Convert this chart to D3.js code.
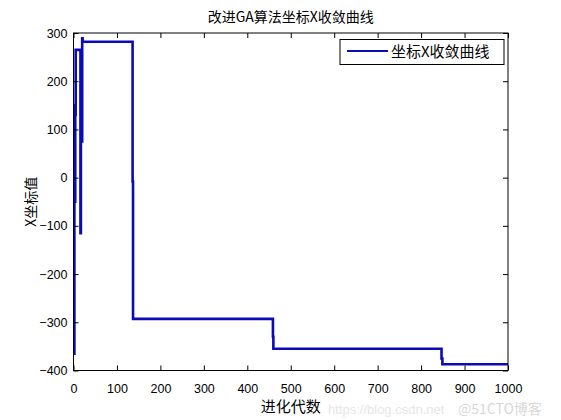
<!DOCTYPE html>
<html><head><meta charset="utf-8">
<script src="https://cdn.jsdelivr.net/npm/d3@7"></script>
<style>
body{margin:0;background:#fff;}
text{font-family:"Liberation Sans","Noto Sans CJK SC",sans-serif;}
.cjk{font-family:"Noto Sans CJK SC","Liberation Sans",sans-serif;}
</style></head>
<body><svg id="c" width="561" height="420"></svg>
<script>
const titleText = "改进GA算法坐标X收敛曲线";
const xLabel = "进化代数";
const yLabel = "X坐标值";
const legendLabel = "坐标X收敛曲线";
const generations = [1, 2, 3, 4, 5, 16, 17, 18, 19, 20, 21, 136, 137, 459, 460, 847, 849, 1000];
const xValues     = [-365, 150, -50, 130, 265, -115, 80, 265, 75, 289, 282, -8, -293, -330, -355, -375, -387, -387];
const xTicks = [0,100,200,300,400,500,600,700,800,900,1000];
const yTicks = [-400,-300,-200,-100,0,100,200,300];

const svg = d3.select("#c");
const L=73.5, R=508, T=33, B=370.5;
const x = d3.scaleLinear().domain([0,1000]).range([L,R]);
const y = d3.scaleLinear().domain([-400,300]).range([B,T]);
const fmt = d3.format("d");

svg.append("rect").attr("width",561).attr("height",420).attr("fill","#fff");

// watermark (behind)
svg.append("text").attr("x",328).attr("y",414).attr("fill","#e6e6e6").style("font-size","13px").text("https://blog.csdn.net");
svg.append("text").attr("class","cjk").attr("x",458).attr("y",414).attr("fill","#d8d8d8").style("font-size","14px").text("@51CTO博客");

// data line
const data = generations.map((g,i)=>({g, v:xValues[i]}));
const line = d3.line().x(d=>x(d.g)).y(d=>y(d.v)).curve(d3.curveStepAfter);
svg.append("path").datum(data).attr("d",line).attr("fill","none")
  .attr("stroke","#0a0ab8").attr("stroke-width",2.6).attr("stroke-linejoin","miter");

// axes with inward ticks
const tl = 5;
const gB = svg.append("g").attr("transform",`translate(0,${B})`)
  .call(d3.axisBottom(x).tickValues(xTicks).tickFormat(fmt).tickSizeInner(-tl).tickSizeOuter(0));
const gT = svg.append("g").attr("transform",`translate(0,${T})`)
  .call(d3.axisTop(x).tickValues(xTicks).tickSizeInner(-tl).tickSizeOuter(0).tickFormat(""));
const gL = svg.append("g").attr("transform",`translate(${L},0)`)
  .call(d3.axisLeft(y).tickValues(yTicks).tickFormat(fmt).tickSizeInner(-tl).tickSizeOuter(0).tickPadding(6));
const gR = svg.append("g").attr("transform",`translate(${R},0)`)
  .call(d3.axisRight(y).tickValues(yTicks).tickSizeInner(-tl).tickSizeOuter(0).tickFormat(""));
[gB,gT,gL,gR].forEach(g=>{
  g.select(".domain").remove();
  g.selectAll("line").attr("stroke","#000").attr("stroke-width",1);
  g.selectAll("text").attr("fill","#000").style("font-size","12.5px");
});
gB.selectAll("text").attr("dy","0.35em").attr("y",18);
svg.append("rect").attr("x",L).attr("y",T).attr("width",R-L).attr("height",B-T)
  .attr("fill","none").attr("stroke","#000").attr("stroke-width",1);

// title & labels
svg.append("text").attr("class","cjk").attr("x",(L+R)/2).attr("y",22).attr("text-anchor","middle")
  .style("font-size","14px").text(titleText);
svg.append("text").attr("class","cjk").attr("x",(L+R)/2).attr("y",412).attr("text-anchor","middle")
  .style("font-size","15px").text(xLabel);
svg.append("text").attr("class","cjk").attr("transform",`translate(36,${(T+B)/2}) rotate(-90)`)
  .attr("text-anchor","middle").style("font-size","14px").text(yLabel);

// legend
const lg = svg.append("g");
lg.append("rect").attr("x",340).attr("y",39.5).attr("width",164).attr("height",25)
  .attr("fill","#fff").attr("stroke","#000").attr("stroke-width",1);
lg.append("line").attr("x1",347).attr("x2",388).attr("y1",51).attr("y2",51)
  .attr("stroke","#0a0ab8").attr("stroke-width",2);
lg.append("text").attr("class","cjk").attr("x",391).attr("y",57).style("font-size","15px").text(legendLabel);
</script></body></html>
